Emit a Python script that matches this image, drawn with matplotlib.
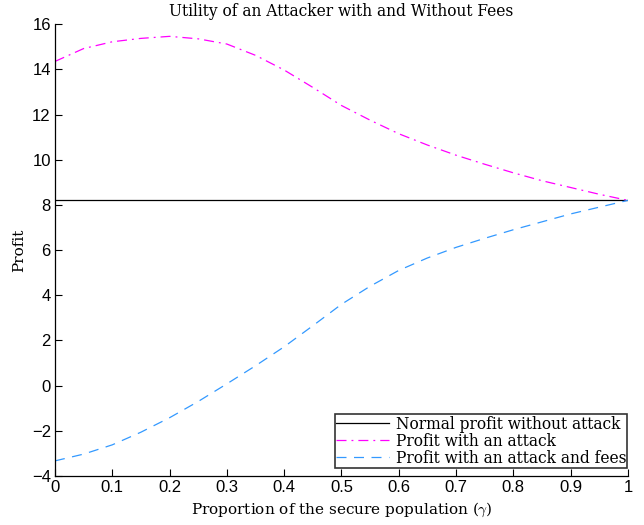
import matplotlib
matplotlib.use("Agg")
import matplotlib.pyplot as plt
import numpy as np

gamma = [0.0, 0.05, 0.1, 0.15, 0.2, 0.25, 0.3, 0.35, 0.4, 0.45, 0.5, 0.55, 0.6, 0.65, 0.7, 0.75, 0.8, 0.85, 0.9, 0.95, 1.0]
normal_profit = [8.2] * len(gamma)
attack_profit = [14.35, 14.92, 15.22, 15.37, 15.46, 15.35, 15.12, 14.62, 13.97, 13.2, 12.4, 11.75, 11.15, 10.65, 10.2, 9.8, 9.42, 9.07, 8.77, 8.47, 8.2]
fees_profit = [-3.33, -3.03, -2.62, -2.06, -1.42, -0.7, 0.08, 0.88, 1.72, 2.65, 3.6, 4.4, 5.1, 5.65, 6.12, 6.52, 6.9, 7.25, 7.6, 7.9, 8.2]

labels = ["Normal profit without attack", "Profit with an attack", "Profit with an attack and fees"]
xticks = [0, 0.1, 0.2, 0.3, 0.4, 0.5, 0.6, 0.7, 0.8, 0.9, 1]
xtick_labels = ["0", "0.1", "0.2", "0.3", "0.4", "0.5", "0.6", "0.7", "0.8", "0.9", "1"]
yticks = [-4, -2, 0, 2, 4, 6, 8, 10, 12, 14, 16]
ytick_labels = ["\u22124", "\u22122", "0", "2", "4", "6", "8", "10", "12", "14", "16"]

serif = "DejaVu Serif"
sans = "Liberation Sans"
plt.rcParams["mathtext.fontset"] = "cm"

fig = plt.figure(figsize=(6.44, 5.25), dpi=100)
ax = fig.add_axes([0.0854, 0.0933, 0.8896, 0.8607])

ax.plot(gamma, normal_profit, color="black", lw=0.9, label=labels[0])
ax.plot(gamma, attack_profit, color="#ff00ff", lw=0.9, linestyle=(0, (8, 4, 1.5, 4)), label=labels[1])
ax.plot(gamma, fees_profit, color="#3399ff", lw=0.9, linestyle=(0, (8, 6)), label=labels[2])

ax.set_xlim(0, 1)
ax.set_ylim(-4, 16)
ax.set_xticks(xticks)
ax.set_xticklabels(xtick_labels, fontfamily=sans, fontsize=12)
ax.set_yticks(yticks)
ax.set_yticklabels(ytick_labels, fontfamily=sans, fontsize=12)
ax.tick_params(direction="in", length=5, width=0.8, pad=3)
for s in ["top", "right"]:
    ax.spines[s].set_visible(False)
for s in ["left", "bottom"]:
    ax.spines[s].set_linewidth(0.9)

ax.set_title("Utility of an Attacker with and Without Fees", fontfamily=serif, fontsize=11.2, pad=6)
ax.set_xlabel("Proportion of the secure population ($\\gamma$)", fontfamily=serif, fontsize=11, labelpad=4)
ax.set_ylabel("Profit", fontfamily=serif, fontsize=11, labelpad=4)

leg = ax.legend(loc="lower right", prop={"family": serif, "size": 11.2}, frameon=True, fancybox=False,
                borderpad=0.08, labelspacing=0.0, handlelength=3.4, handletextpad=0.4,
                borderaxespad=0.0, bbox_to_anchor=(0.999, 0.018))
leg.get_frame().set_edgecolor("black")
leg.get_frame().set_linewidth(1.2)

fig.savefig("out.png", dpi=100)
